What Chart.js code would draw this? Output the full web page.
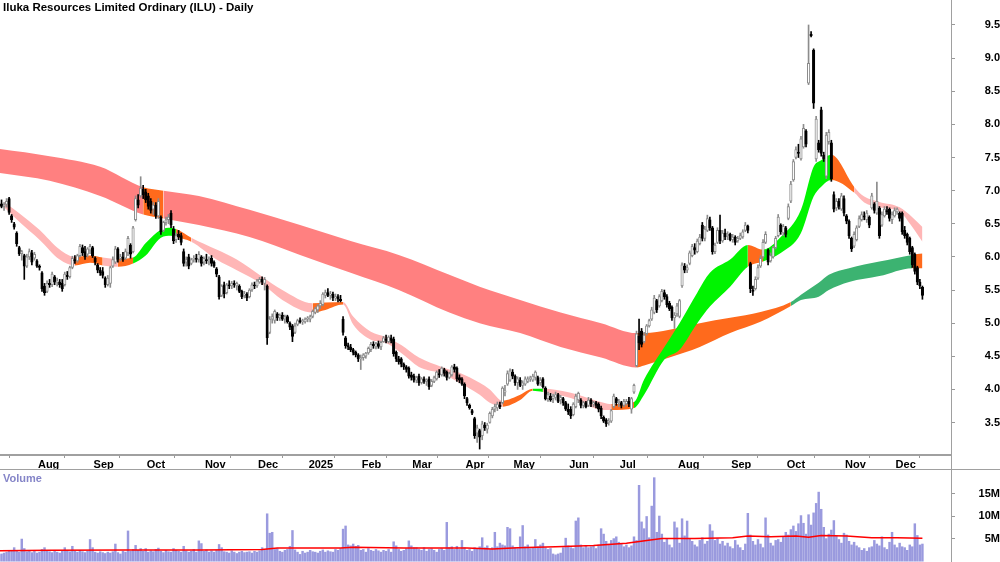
<!DOCTYPE html>
<html lang="en">
<head>
<meta charset="utf-8">
<script src="https://cdn.jsdelivr.net/npm/chart.js@4.4.0/dist/chart.umd.min.js"></script>
<style>
  body { margin: 0; background: #fff; }
  #wrap { position: relative; width: 1000px; height: 562px; overflow: hidden; font-family: "Liberation Sans", Arial, sans-serif; }
  #priceChart { position: absolute; left: 0; top: 0; }
  #volChart { position: absolute; left: 0; top: 470px; }
  .title { position: absolute; left: 3px; top: 1px; font-weight: bold; font-size: 11.5px; color: #000; }
  .vlabel { position: absolute; left: 3px; top: 472px; font-weight: bold; font-size: 11px; color: #8585c8; }
  .rule { position: absolute; background: #a0a0a0; }
</style>
</head>
<body>
<div id="wrap">
  <canvas id="priceChart" width="1000" height="470"></canvas>
  <canvas id="volChart" width="1000" height="92"></canvas>
  <div class="rule" style="left:0;top:469px;width:1000px;height:1px"></div>
  <div class="rule" style="left:951px;top:0;width:1px;height:562px"></div>
  <div class="title">Iluka Resources Limited Ordinary (ILU) - Daily</div>
  <div class="vlabel">Volume</div>
</div>
<script>

// trading day index of the first bar of each month (day 0 = 11 Jul 2024)
const monthTicks = [15, 37, 58, 81, 102, 122, 143, 163, 184, 203, 225, 245, 268, 289, 311, 334, 354];
const monthLabels = ['Aug', 'Sep', 'Oct', 'Nov', 'Dec', '2025', 'Feb', 'Mar', 'Apr', 'May', 'Jun', 'Jul', 'Aug', 'Sep', 'Oct', 'Nov', 'Dec'];
const priceTicks = [3.5, 4.0, 4.5, 5.0, 5.5, 6.0, 6.5, 7.0, 7.5, 8.0, 8.5, 9.0, 9.5];
const volTicks = [5, 10, 15];

// daily candles: [open, high, low, close]
const ohlc = [
  [6.78,6.84,6.72,6.80],[6.80,6.86,6.74,6.76],[6.76,6.82,6.70,6.79],[6.79,6.88,6.75,6.84],[6.88,6.90,6.64,6.67],
  [6.62,6.64,6.52,6.56],[6.50,6.52,6.42,6.45],[6.36,6.38,6.16,6.20],[6.14,6.16,6.02,6.05],[6.05,6.10,5.95,6.08],
  [6.02,6.04,5.66,5.86],[5.86,6.04,5.84,6.00],[6.00,6.12,5.96,6.08],[6.06,6.10,5.88,5.92],[5.98,6.07,5.95,6.04],
  [5.94,5.96,5.84,5.86],[5.86,5.88,5.80,5.84],[5.76,5.78,5.48,5.52],[5.56,5.60,5.42,5.46],[5.48,5.64,5.46,5.60],
  [5.60,5.66,5.54,5.58],[5.58,5.77,5.55,5.74],[5.70,5.72,5.58,5.62],[5.62,5.68,5.56,5.64],[5.62,5.66,5.54,5.58],
  [5.60,5.66,5.48,5.52],[5.58,5.77,5.56,5.74],[5.72,5.78,5.66,5.70],[5.70,5.86,5.68,5.84],[5.84,6.01,5.82,5.98],
  [5.96,6.02,5.90,5.94],[5.94,6.04,5.92,6.02],[6.02,6.19,6.00,6.16],[6.14,6.18,6.02,6.06],[6.08,6.16,5.96,6.00],
  [6.04,6.14,6.00,6.12],[6.10,6.19,6.05,6.16],[6.14,6.16,5.99,6.02],[5.98,6.00,5.88,5.92],[5.88,5.90,5.76,5.80],
  [5.80,5.84,5.72,5.76],[5.78,5.84,5.68,5.72],[5.68,5.70,5.54,5.58],[5.58,5.72,5.56,5.68],[5.60,5.86,5.54,5.84],
  [5.86,6.00,5.84,5.96],[5.92,6.16,5.90,6.12],[6.12,6.14,5.92,5.96],[5.98,6.04,5.94,6.00],[6.00,6.07,5.93,5.96],
  [5.98,6.12,5.96,6.08],[6.06,6.31,6.02,6.28],[6.18,6.20,5.98,6.04],[6.08,6.46,6.06,6.44],[6.56,6.92,6.54,6.88],
  [6.86,6.94,6.74,6.78],[6.92,7.21,6.90,7.04],[7.02,7.08,6.88,6.94],[6.98,7.02,6.82,6.86],[6.92,6.96,6.72,6.76],
  [6.84,6.88,6.66,6.70],[6.72,6.82,6.64,6.78],[6.78,6.82,6.58,6.62],[6.62,6.88,6.58,6.84],[6.60,6.62,6.34,6.38],
  [6.40,6.54,6.38,6.52],[6.52,6.60,6.48,6.56],[6.56,6.64,6.50,6.60],[6.66,6.70,6.44,6.48],[6.42,6.46,6.20,6.24],
  [6.26,6.36,6.22,6.32],[6.34,6.40,6.26,6.30],[6.32,6.36,6.18,6.22],[6.08,6.12,5.86,5.90],[5.92,6.00,5.86,5.96],
  [6.00,6.04,5.82,5.86],[5.90,5.98,5.88,5.96],[5.96,6.02,5.92,5.98],[5.98,6.04,5.92,5.96],[5.96,6.08,5.92,6.04],
  [6.00,6.02,5.86,5.90],[5.92,6.00,5.88,5.98],[5.96,6.04,5.90,5.94],[5.94,6.00,5.88,5.96],[5.98,6.02,5.86,5.90],
  [5.92,5.94,5.84,5.86],[5.82,5.84,5.70,5.74],[5.70,5.72,5.36,5.40],[5.42,5.58,5.40,5.56],[5.58,5.62,5.38,5.44],
  [5.46,5.60,5.44,5.58],[5.58,5.64,5.52,5.56],[5.56,5.63,5.52,5.60],[5.60,5.64,5.54,5.58],[5.56,5.62,5.50,5.60],
  [5.56,5.58,5.46,5.48],[5.48,5.50,5.37,5.40],[5.42,5.48,5.38,5.44],[5.44,5.46,5.34,5.38],[5.40,5.52,5.38,5.50],
  [5.50,5.61,5.48,5.58],[5.58,5.62,5.52,5.56],[5.56,5.66,5.54,5.64],[5.62,5.69,5.60,5.66],[5.66,5.70,5.58,5.62],
  [5.60,5.69,5.50,5.66],[5.56,5.58,4.68,4.78],[4.86,5.10,4.84,5.06],[5.06,5.14,5.00,5.10],[5.04,5.20,5.00,5.18],
  [5.14,5.16,5.04,5.08],[5.08,5.14,5.04,5.12],[5.12,5.16,5.04,5.06],[5.06,5.12,5.00,5.10],[5.10,5.12,5.00,5.02],
  [5.00,5.02,4.90,4.94],[4.96,4.98,4.72,4.80],[4.86,5.00,4.84,4.96],[4.98,5.06,4.96,5.04],[5.04,5.08,5.00,5.02],
  [5.02,5.06,4.98,5.04],[5.02,5.08,5.00,5.06],[5.06,5.10,5.02,5.08],[5.06,5.12,5.02,5.10],[5.10,5.20,5.08,5.18],
  [5.16,5.24,5.14,5.22],[5.20,5.28,5.16,5.26],[5.26,5.34,5.22,5.30],[5.28,5.46,5.26,5.44],[5.42,5.50,5.38,5.46],
  [5.46,5.52,5.40,5.42],[5.42,5.48,5.36,5.44],[5.44,5.47,5.34,5.38],[5.38,5.44,5.34,5.40],[5.40,5.43,5.32,5.36],
  [5.36,5.42,5.32,5.34],[5.06,5.10,4.82,4.86],[4.78,4.80,4.62,4.66],[4.66,4.70,4.60,4.64],[4.64,4.68,4.57,4.60],
  [4.60,4.62,4.52,4.56],[4.56,4.58,4.49,4.52],[4.52,4.54,4.42,4.46],[4.46,4.52,4.30,4.48],[4.48,4.54,4.44,4.52],
  [4.50,4.56,4.47,4.55],[4.55,4.64,4.53,4.62],[4.60,4.71,4.57,4.68],[4.68,4.72,4.62,4.66],[4.64,4.71,4.61,4.69],
  [4.69,4.73,4.62,4.65],[4.64,4.73,4.60,4.71],[4.72,4.80,4.71,4.78],[4.76,4.82,4.70,4.74],[4.72,4.81,4.70,4.79],
  [4.78,4.82,4.70,4.74],[4.76,4.79,4.50,4.54],[4.56,4.58,4.42,4.46],[4.46,4.50,4.38,4.42],[4.46,4.48,4.34,4.38],
  [4.38,4.40,4.30,4.34],[4.34,4.36,4.26,4.30],[4.32,4.34,4.17,4.20],[4.22,4.26,4.14,4.18],[4.20,4.23,4.11,4.14],
  [4.14,4.20,4.10,4.18],[4.20,4.23,4.06,4.10],[4.10,4.18,4.08,4.16],[4.16,4.19,4.09,4.12],[4.12,4.16,4.06,4.14],
  [4.16,4.19,4.00,4.04],[4.06,4.15,4.04,4.12],[4.12,4.20,4.10,4.18],[4.16,4.28,4.14,4.26],[4.24,4.30,4.18,4.22],
  [4.22,4.34,4.20,4.32],[4.30,4.32,4.20,4.24],[4.26,4.28,4.14,4.18],[4.18,4.26,4.16,4.24],[4.22,4.36,4.20,4.34],
  [4.34,4.38,4.26,4.30],[4.32,4.34,4.12,4.16],[4.18,4.22,4.10,4.14],[4.16,4.18,4.06,4.08],[4.08,4.10,3.86,3.90],
  [3.86,3.88,3.76,3.80],[3.76,3.78,3.70,3.72],[3.68,3.70,3.62,3.64],[3.56,3.58,3.26,3.30],[3.34,3.46,3.20,3.42],
  [3.38,3.40,3.10,3.28],[3.30,3.52,3.24,3.48],[3.46,3.50,3.38,3.42],[3.40,3.49,3.34,3.46],[3.50,3.66,3.49,3.64],
  [3.60,3.73,3.57,3.70],[3.70,3.78,3.66,3.74],[3.72,3.81,3.68,3.78],[3.76,3.81,3.71,3.74],[3.80,4.04,3.78,4.02],
  [3.96,4.06,3.90,3.98],[4.08,4.28,4.06,4.24],[4.14,4.31,4.12,4.28],[4.26,4.30,4.16,4.20],[4.20,4.22,4.06,4.10],
  [4.10,4.19,4.00,4.16],[4.14,4.18,4.04,4.06],[4.06,4.13,4.00,4.10],[4.08,4.19,4.06,4.16],[4.12,4.19,4.10,4.16],
  [4.16,4.20,4.12,4.18],[4.14,4.23,4.12,4.20],[4.18,4.28,4.14,4.26],[4.18,4.20,4.06,4.08],[4.10,4.18,4.06,4.14],
  [4.16,4.18,4.02,4.04],[4.02,4.04,3.84,3.86],[3.86,3.96,3.82,3.92],[3.90,3.94,3.82,3.84],[3.86,3.93,3.80,3.90],
  [3.88,3.96,3.84,3.92],[3.92,3.94,3.80,3.82],[3.84,3.91,3.78,3.88],[3.86,3.88,3.76,3.80],[3.80,3.82,3.68,3.70],
  [3.70,3.78,3.62,3.66],[3.70,3.74,3.56,3.60],[3.62,3.80,3.60,3.78],[3.74,3.93,3.72,3.90],[3.84,3.96,3.80,3.94],
  [3.84,3.86,3.72,3.76],[3.76,3.82,3.72,3.80],[3.80,3.82,3.72,3.74],[3.76,3.88,3.74,3.84],[3.84,3.86,3.74,3.78],
  [3.78,3.82,3.74,3.80],[3.80,3.82,3.72,3.76],[3.78,3.80,3.66,3.70],[3.72,3.75,3.56,3.60],[3.58,3.60,3.50,3.52],
  [3.54,3.56,3.44,3.48],[3.50,3.56,3.46,3.52],[3.52,3.70,3.50,3.68],[3.74,3.93,3.72,3.90],[3.86,3.88,3.76,3.80],
  [3.80,3.85,3.74,3.82],[3.80,3.82,3.72,3.76],[3.76,3.85,3.74,3.82],[3.78,3.85,3.76,3.82],[3.82,3.88,3.74,3.78],
  [3.70,3.88,3.64,3.86],[3.96,4.08,3.94,4.06],[4.36,4.88,4.34,4.84],[4.80,5.06,4.60,4.70],[4.88,4.92,4.64,4.68],
  [4.72,4.86,4.70,4.82],[4.84,4.98,4.82,4.96],[4.96,5.06,4.94,5.04],[5.06,5.24,5.04,5.20],[5.16,5.42,5.14,5.38],
  [5.34,5.36,5.16,5.20],[5.26,5.43,5.24,5.40],[5.34,5.51,5.32,5.48],[5.46,5.50,5.36,5.40],[5.40,5.43,5.24,5.28],
  [5.30,5.33,5.19,5.22],[5.24,5.26,5.04,5.08],[5.08,5.16,4.92,5.12],[5.14,5.30,5.10,5.26],[5.10,5.36,5.08,5.34],
  [5.56,5.91,5.54,5.88],[5.86,5.90,5.76,5.80],[5.80,5.88,5.76,5.84],[5.90,6.09,5.88,6.06],[6.02,6.19,6.00,6.16],
  [6.14,6.20,6.04,6.10],[6.08,6.27,6.06,6.24],[6.20,6.34,6.18,6.30],[6.48,6.52,6.24,6.28],[6.28,6.46,6.24,6.42],
  [6.40,6.63,6.38,6.58],[6.56,6.60,6.40,6.44],[6.44,6.46,6.04,6.08],[6.08,6.21,6.05,6.18],[6.22,6.44,6.20,6.40],
  [6.40,6.63,6.20,6.24],[6.24,6.40,6.22,6.36],[6.36,6.42,6.26,6.30],[6.32,6.38,6.26,6.34],[6.34,6.36,6.24,6.26],
  [6.26,6.34,6.22,6.30],[6.30,6.32,6.18,6.22],[6.24,6.31,6.22,6.28],[6.28,6.36,6.26,6.32],[6.30,6.41,6.28,6.38],
  [6.40,6.52,6.38,6.48],[6.46,6.48,6.36,6.40],[5.90,5.92,5.46,5.52],[5.50,5.56,5.42,5.48],[5.52,5.70,5.50,5.66],
  [5.68,5.88,5.66,5.84],[5.86,6.02,5.84,5.98],[6.00,6.26,5.98,6.22],[6.22,6.38,6.20,6.34],[6.10,6.12,5.88,5.92],
  [5.94,6.06,5.92,6.02],[6.00,6.16,5.98,6.14],[6.14,6.31,6.12,6.28],[6.32,6.64,6.30,6.60],[6.48,6.50,6.34,6.38],
  [6.36,6.49,6.32,6.46],[6.44,6.46,6.30,6.34],[6.58,6.80,6.56,6.76],[6.84,7.14,6.82,7.10],[7.16,7.47,7.14,7.44],
  [7.50,7.66,7.48,7.62],[7.58,7.70,7.50,7.56],[7.48,7.82,7.46,7.78],[7.66,8.00,7.64,7.94],[7.90,7.92,7.66,7.70],
  [8.62,9.50,8.60,8.92],[9.36,9.40,9.32,9.34],[9.12,9.14,8.24,8.32],[7.48,8.12,7.44,8.08],[7.72,7.76,7.58,7.62],
  [8.22,8.26,7.52,7.56],[7.54,7.58,7.44,7.48],[7.22,7.88,7.18,7.84],[7.74,7.92,7.70,7.88],[7.72,7.76,7.14,7.18],
  [6.94,6.98,6.68,6.72],[6.74,6.88,6.70,6.84],[6.84,6.88,6.72,6.76],[6.72,6.96,6.70,6.92],[6.88,6.92,6.62,6.66],
  [6.62,6.64,6.50,6.54],[6.54,6.56,6.28,6.32],[6.28,6.30,6.08,6.12],[6.16,6.38,6.14,6.34],[6.26,6.47,6.24,6.44],
  [6.46,6.62,6.44,6.58],[6.56,6.68,6.54,6.64],[6.62,6.68,6.56,6.60],[6.56,6.70,6.52,6.66],[6.60,6.62,6.44,6.48],
  [6.74,6.96,6.72,6.92],[6.80,6.82,6.66,6.70],[6.66,7.13,6.64,6.84],[6.74,6.76,6.28,6.32],[6.48,6.68,6.46,6.64],
  [6.62,6.76,6.60,6.72],[6.70,6.76,6.64,6.68],[6.72,6.74,6.54,6.58],[6.56,6.68,6.50,6.64],[6.62,6.74,6.60,6.70],
  [6.68,6.74,6.64,6.72],[6.66,6.68,6.54,6.58],[6.66,6.68,6.34,6.38],[6.40,6.46,6.28,6.32],[6.34,6.36,6.18,6.22],
  [6.28,6.30,6.04,6.08],[6.14,6.16,5.84,5.88],[6.04,6.06,5.74,5.78],[5.84,5.86,5.58,5.62],[5.62,5.66,5.52,5.56],
  [5.54,5.56,5.36,5.42]
];

// daily volume, millions of shares
const volume = [
  1.4,1.6,1.8,2.0,2.2,2.4,3.0,2.2,2.0,4.9, 2.8,2.1,2.3,1.9,2.2,1.8,2.0,2.6,3.0,2.4,
  2.1,1.9,2.3,2.0,1.8,2.2,3.0,2.4,2.1,3.3, 2.2,2.0,2.4,2.1,1.9,2.2,4.8,3.0,2.0,1.8,
  2.1,1.9,1.7,2.0,1.8,2.1,3.8,1.9,1.6,2.2, 2.0,6.7,2.2,2.6,3.5,2.4,2.8,2.2,2.8,2.0,
  2.3,2.1,2.6,2.9,2.2,1.9,2.4,2.1,2.0,2.8, 2.4,2.2,2.0,3.3,2.3,2.0,2.2,2.6,2.0,4.5,
  3.9,2.2,2.5,2.0,2.3,2.0,2.4,3.7,3.0,2.1, 2.0,1.8,2.3,2.0,1.7,2.0,2.2,1.9,2.0,2.1,
  1.8,2.2,2.0,2.3,3.0,2.4,10.5,6.2,6.4,2.6, 2.8,2.2,2.0,2.4,2.6,3.3,6.8,2.5,2.0,1.5,
  2.2,1.8,2.0,2.4,2.1,2.0,1.8,2.2,2.5,2.0, 2.3,2.1,2.0,2.6,2.4,2.8,7.1,7.8,3.6,3.4,
  3.8,3.3,3.5,2.4,2.6,2.0,2.8,2.4,2.2,2.6, 2.3,2.0,2.4,2.2,2.6,2.0,4.3,3.4,2.6,2.2,
  2.4,2.8,4.5,3.4,3.0,3.0,2.6,2.4,3.0,2.2, 2.6,2.8,2.4,2.0,2.6,2.8,2.4,8.6,3.0,3.2,
  2.6,3.3,2.6,4.6,3.0,2.4,2.6,2.2,3.0,2.8, 3.2,5.2,3.0,3.4,2.6,3.0,6.4,3.2,4.0,3.6,
  3.4,7.5,7.2,3.4,3.0,2.8,5.4,7.9,3.2,3.6, 2.8,3.0,4.8,3.2,3.6,4.0,3.0,2.6,2.8,1.6,
  1.4,1.6,1.8,3.0,5.1,3.4,3.0,2.8,8.9,9.6, 3.6,3.0,3.4,3.0,3.2,3.4,2.8,3.6,7.2,6.0,
  4.4,3.8,4.6,5.0,5.4,4.2,3.8,3.2,3.6,3.0, 3.4,5.4,4.6,16.8,8.7,7.2,9.9,5.2,12.2,18.5,
  6.4,10.0,6.0,4.2,5.0,3.6,3.0,8.7,7.4,4.0, 9.4,5.6,8.9,5.0,4.4,3.6,3.2,4.6,5.2,3.8,
  4.4,8.1,6.7,4.6,5.0,3.8,4.4,3.4,4.0,3.2, 2.8,4.6,3.6,3.0,2.4,3.8,10.6,5.8,4.4,3.6,
  4.8,3.8,3.0,9.6,5.8,4.0,3.4,4.6,4.8,4.2, 5.4,6.4,5.8,7.0,7.8,6.6,8.3,10.1,8.4,6.0,
  10.3,8.0,10.7,12.8,15.3,11.5,7.5,5.0,6.0,6.9, 9.0,5.6,4.8,4.0,6.2,5.8,4.4,3.6,4.2,3.4,
  3.0,2.4,2.8,2.2,3.0,3.2,4.6,3.8,3.4,5.4, 3.0,2.6,4.2,6.4,3.6,3.0,4.0,3.2,3.0,2.4,
  3.6,3.2,8.3,5.7,3.6,3.8
];

// volume moving average, read at sample days
const volMaDay = [0, 20, 50, 80, 104, 110, 135, 140, 160, 185, 195, 205, 220, 235, 248, 256, 262, 275, 290, 296, 305, 315, 320, 325, 335, 345, 355, 365];
const volMa    = [2.3, 2.4, 2.5, 2.5, 2.6, 2.9, 2.9, 3.1, 2.9, 2.9, 2.7, 3.0, 3.2, 3.5, 4.0, 4.6, 5.0, 5.0, 5.2, 5.6, 5.4, 5.6, 5.3, 5.7, 5.6, 5.2, 5.2, 5.1];

// short-term average ribbon (upper/lower edge), colour code starting at each sample
const shortDay = [2, 8, 16, 24, 30, 36, 41, 47, 53, 58, 64, 68, 70, 76, 86, 94, 104, 112, 124, 129, 136, 140, 147, 153, 159, 166, 175, 182, 190, 194, 199, 206, 211, 215, 226, 239, 242, 251, 255, 263, 269, 276, 281, 289, 296, 302, 309, 317, 322, 325, 329, 338, 342, 348, 356, 361, 365];
const shortHi  = [6.83, 6.66, 6.41, 6.11, 6.00, 6.02, 5.99, 5.97, 5.99, 6.21, 6.41, 6.44, 6.42, 6.29, 6.11, 5.96, 5.70, 5.50, 5.30, 5.31, 5.32, 5.10, 4.87, 4.79, 4.67, 4.48, 4.34, 4.25, 4.10, 4.00, 3.83, 3.92, 4.01, 4.01, 3.95, 3.80, 3.78, 3.81, 4.15, 4.64, 5.00, 5.46, 5.76, 5.96, 6.18, 6.11, 6.30, 6.71, 7.36, 7.46, 7.54, 7.06, 6.91, 6.83, 6.75, 6.60, 6.45];
const shortLo  = [6.75, 6.53, 6.26, 5.96, 5.87, 5.91, 5.87, 5.85, 5.90, 6.02, 6.29, 6.32, 6.30, 6.23, 5.96, 5.80, 5.59, 5.35, 5.16, 5.20, 5.28, 4.98, 4.75, 4.70, 4.55, 4.34, 4.24, 4.10, 3.92, 3.80, 3.74, 3.84, 3.98, 3.96, 3.87, 3.69, 3.69, 3.72, 3.92, 4.45, 4.60, 5.00, 5.25, 5.55, 5.85, 5.93, 6.06, 6.36, 6.91, 7.06, 7.16, 6.97, 6.82, 6.75, 6.68, 6.45, 6.23];
const shortCol = ['p','p','p','p','o','o','p','o','g','g','g','g','o','p','p','p','p','p','o','o','p','p','p','p','p','p','p','p','p','p','o','o','g','p','p','p','o','g','g','g','g','g','g','g','o','g','g','g','g','g','o','p','p','p','p','p','p'];

// long-term average ribbon
const longDay = [0, 20, 40, 57, 65, 79, 99, 119, 139, 158, 178, 190, 206, 222, 238, 252, 255, 265, 277, 289, 301, 313, 317, 324, 328, 336, 348, 361, 365];
const longHi  = [7.63, 7.52, 7.36, 7.05, 7.00, 6.92, 6.71, 6.48, 6.24, 6.03, 5.73, 5.55, 5.35, 5.16, 5.00, 4.85, 4.85, 4.90, 5.00, 5.08, 5.17, 5.32, 5.43, 5.61, 5.73, 5.83, 5.93, 6.03, 6.05];
const longLo  = [7.27, 7.15, 6.92, 6.64, 6.58, 6.48, 6.30, 6.03, 5.76, 5.50, 5.16, 5.00, 4.85, 4.64, 4.48, 4.33, 4.36, 4.48, 4.64, 4.85, 5.02, 5.26, 5.35, 5.40, 5.50, 5.62, 5.71, 5.83, 5.83];
const longCol = ['r','r','r','o','r','r','r','r','r','r','r','r','r','r','r','o','o','o','o','o','o','d','d','d','d','d','d','o','o'];

const palette = { p: '#ffb6b6', o: '#ff6a1c', g: '#00f400', r: '#ff8080', d: '#3cb371' };
const FONT = 'Liberation Sans, Arial, sans-serif';
const xMin = 0.4, xMax = 376.3;

function ribbon(days, hi, lo, cols, order) {
  return [
    {
      type: 'line', order: order,
      data: days.map((d, k) => ({ x: d, y: hi[k] })),
      borderColor: 'transparent', borderWidth: 0, pointRadius: 0,
      cubicInterpolationMode: 'monotone',
      backgroundColor: palette[cols[0]],
      fill: '+1',
      segment: { backgroundColor: c => palette[cols[c.p0DataIndex]] }
    },
    {
      type: 'line', order: order,
      data: days.map((d, k) => ({ x: d, y: lo[k] })),
      borderColor: 'transparent', borderWidth: 0, pointRadius: 0,
      cubicInterpolationMode: 'monotone',
      fill: false
    }
  ];
}

const up = i => ohlc[i][3] >= ohlc[i][0];

const xAxis = {
  type: 'linear', min: xMin, max: xMax, offset: false,
  afterBuildTicks: s => { s.ticks = monthTicks.map(v => ({ value: v })); }
};

// right-hand axis: fixed width, and no extra top/bottom padding from the label padding
const fitRight = s => { s.width = 49; s.paddingTop = 0; s.paddingBottom = 0; };

new Chart(document.getElementById('priceChart'), {
  type: 'bar',
  data: {
    datasets: [
      ...ribbon(longDay, longHi, longLo, longCol, 20),
      ...ribbon(shortDay, shortHi, shortLo, shortCol, 15),
      {
        order: 2, grouped: false, barThickness: 1,
        data: ohlc.map((d, i) => ({ x: i, y: [d[2], d[1]] })),
        backgroundColor: c => up(c.dataIndex) ? '#8c8c8c' : '#000000'
      },
      {
        order: 1, grouped: false, barThickness: 2.5, minBarLength: 1,
        borderSkipped: false, borderWidth: 1,
        data: ohlc.map((d, i) => ({ x: i, y: [d[0], d[3]] })),
        backgroundColor: c => up(c.dataIndex) ? '#ffffff' : '#000000',
        borderColor: c => up(c.dataIndex) ? '#8c8c8c' : '#000000'
      }
    ]
  },
  options: {
    responsive: false, animation: false, devicePixelRatio: 1,
    layout: { padding: 0 },
    plugins: { legend: { display: false }, tooltip: { enabled: false } },
    scales: {
      x: {
        ...xAxis,
        position: 'bottom',
        afterFit: s => { s.height = 15; },
        grid: { drawOnChartArea: false, drawTicks: true, tickLength: 3, tickColor: '#999999' },
        border: { color: '#a0a0a0', width: 2 },
        ticks: {
          autoSkip: false, maxRotation: 0, align: 'start', labelOffset: 1, padding: 0,
          color: '#000', font: { family: FONT, size: 11, weight: 'bold' },
          callback: (v, i) => monthLabels[i]
        }
      },
      y: {
        type: 'linear', position: 'right', min: 3.01, max: 9.877,
        afterBuildTicks: s => { s.ticks = priceTicks.map(v => ({ value: v })); },
        afterFit: fitRight,
        grid: { drawOnChartArea: false, tickLength: 4, tickColor: '#999999' },
        border: { display: false },
        ticks: {
          crossAlign: 'far', padding: 26, color: '#000',
          font: { family: FONT, size: 11, weight: 'bold' },
          callback: v => v.toFixed(1)
        }
      }
    }
  }
});

new Chart(document.getElementById('volChart'), {
  type: 'bar',
  data: {
    datasets: [
      {
        type: 'line', order: 1,
        data: volMaDay.map((d, k) => ({ x: d, y: volMa[k] })),
        borderColor: '#ff0000', borderWidth: 1.5, pointRadius: 0, fill: false
      },
      {
        order: 2, barThickness: 1.8,
        data: volume.map((v, i) => ({ x: i, y: v })),
        backgroundColor: '#9a9ade'
      }
    ]
  },
  options: {
    responsive: false, animation: false, devicePixelRatio: 1,
    layout: { padding: 0 },
    plugins: { legend: { display: false }, tooltip: { enabled: false } },
    scales: {
      x: { ...xAxis, display: false },
      y: {
        type: 'linear', position: 'right', min: -0.18, max: 20.2,
        afterBuildTicks: s => { s.ticks = volTicks.map(v => ({ value: v })); },
        afterFit: fitRight,
        grid: { drawOnChartArea: false, tickLength: 4, tickColor: '#999999' },
        border: { display: false },
        ticks: {
          crossAlign: 'far', padding: 19, color: '#000',
          font: { family: FONT, size: 11, weight: 'bold' },
          callback: v => v + 'M'
        }
      }
    }
  }
});
</script>
</body>
</html>
